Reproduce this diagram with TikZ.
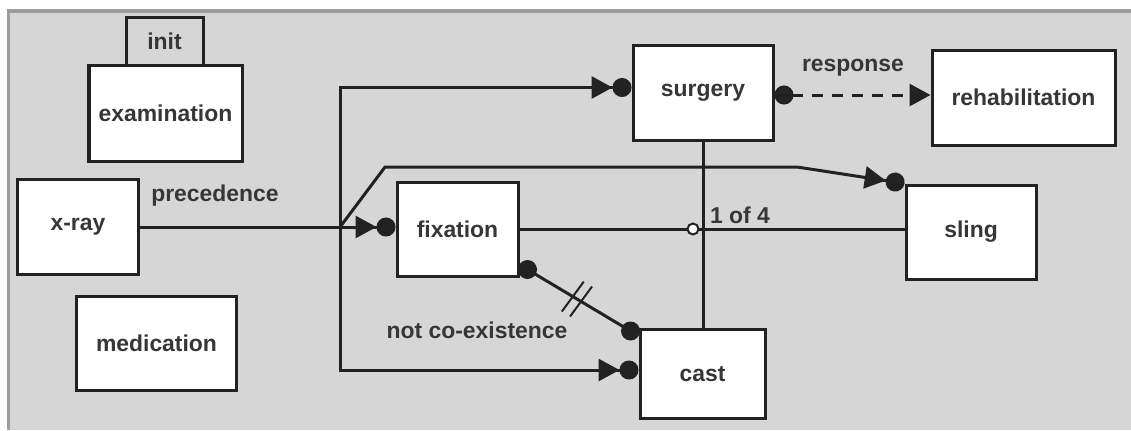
\documentclass[tikz,border=0pt]{standalone}
\usepackage{fontspec}
\setmainfont{Liberation Sans}
\usetikzlibrary{arrows.meta,calc}
\definecolor{panel}{HTML}{D6D6D6}
\definecolor{frame}{HTML}{9C9C9C}
\definecolor{ink}{HTML}{222222}
\definecolor{labelgray}{HTML}{363636}
\begin{document}
\begin{tikzpicture}[x=1bp,y=-1bp,
  txt/.style={font=\fontsize{23}{27}\selectfont\bfseries, text=labelgray},
  box/.style={txt, draw=ink, line width=3bp, fill=white, inner sep=0pt},
  lbl/.style={txt, inner sep=0pt},
  link/.style={draw=ink, line width=3bp},
  prec/.style={link, -{Triangle[length=21bp,width=22bp] Circle[length=19bp]}},
  resp/.style={link, dash pattern=on 11bp off 9bp, {Circle[length=19bp]}-{Triangle[length=21bp,width=22bp]}}]

% panel and its frame
\fill[white] (0,0) rectangle (1131,430);
\fill[panel] (7,9) rectangle (1131,430);
\fill[frame] (7,9) rectangle (1131,13);
\fill[frame] (7,9) rectangle (10,430);
\useasboundingbox (0,0) rectangle (1131,430);

% activities
\node[box, fill=panel, minimum width=77bp, minimum height=48bp] (init) at (164.5,41) {init};
\node[box, minimum width=153bp, minimum height=96bp] (exam) at (165.5,113) {examination};
\node[box, minimum width=120bp, minimum height=95bp] (xray) at (78,227) {x-ray};
\node[box, minimum width=159bp, minimum height=94bp] (med) at (156.5,343) {medication};
\node[box, minimum width=121bp, minimum height=94bp] (fix) at (457.5,229) {fixation};
\node[box, minimum width=140bp, minimum height=95bp] (surg) at (703,92.5) {surgery};
\node[box, minimum width=183bp, minimum height=95bp] (rehab) at (1023.5,97.5) {rehabilitation};
\node[box, minimum width=130bp, minimum height=94bp] (sling) at (971,232) {sling};
\node[box, minimum width=125bp, minimum height=89bp] (cast) at (702.5,374) {cast};

% precedence from x-ray, branching to four targets
\coordinate (j1) at (340,0 |- xray.east);
\draw[prec] (xray.east) -- (xray.east -| fix.west);
\draw[prec] (j1) |- ([yshift=5bp]surg.west);
\draw[prec] (j1) |- ([yshift=4bp]cast.west);
\draw[prec] (j1) -- (385,167) -- (797,167) -- (sling.north west);
\node[lbl] (precLbl) at (215,196) {precedence};

% 1 of 4 choice
\draw[link] (fix.east) -- (fix.east -| sling.west);
\draw[link] (surg.south) -- (surg.south |- cast.north);
\node[circle, draw=ink, fill=white, line width=2bp, minimum size=11bp, inner sep=0pt] (choice)
  at ($(fix.east -| surg.south)+(-10,0)$) {};
\node[lbl] (choiceLbl) at (740,215) {1 of 4};

% response
\draw[resp] ([yshift=-2.5bp]surg.east) -- ([yshift=-2.5bp]surg.east -| rehab.west);
\node[lbl] (respLbl) at (853,68) {response};

% not co-existence
\coordinate (nA) at ($(fix.south east)+(8,-8)$);
\coordinate (nB) at ($(cast.north west)+(-8,3)$);
\draw[link] (nA) -- (nB);
\fill[ink] (nA) circle (9.5);
\fill[ink] (nB) circle (9.5);
\draw[link, line width=2bp] ($(nA)!0.44!(nB)+(-11,15)$) -- ++(22,-30);
\draw[link, line width=2bp] ($(nA)!0.52!(nB)+(-11,15)$) -- ++(22,-30);
\node[lbl] (ncLbl) at (477,330) {not co-existence};
\end{tikzpicture}
\end{document}
